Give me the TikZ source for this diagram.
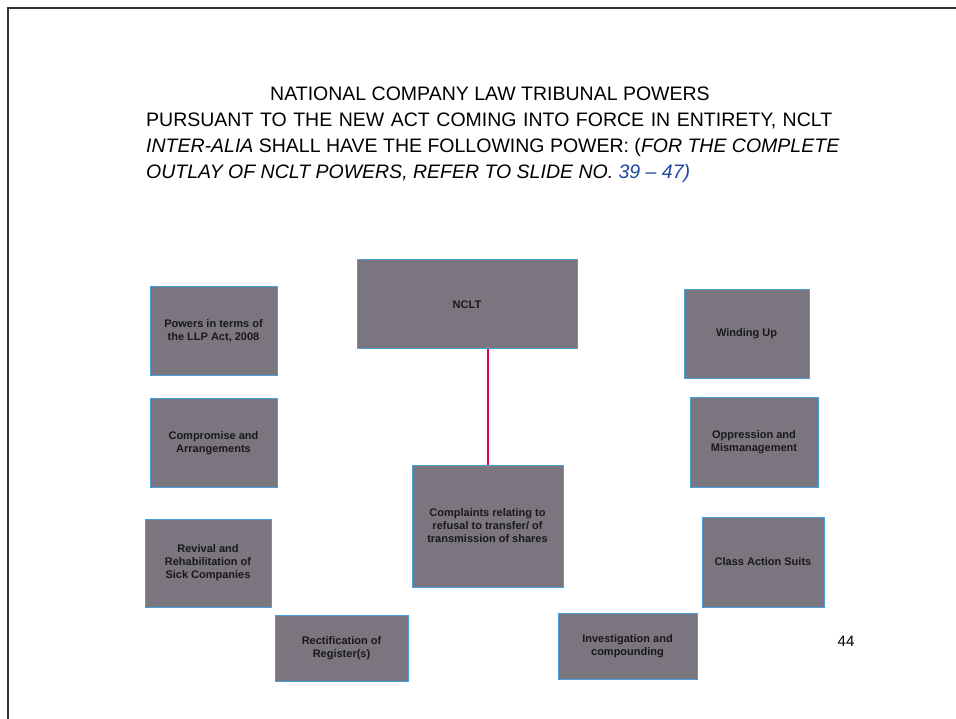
\documentclass[tikz,border=0pt]{standalone}
\usepackage{fontspec}
\setmainfont{Liberation Sans}
\definecolor{boxfill}{RGB}{122,117,127}
\definecolor{boxedge}{RGB}{70,160,220}
\definecolor{linkred}{RGB}{230,0,80}
\definecolor{numblue}{RGB}{30,70,160}
\begin{document}
\begin{tikzpicture}[x=1pt,y=-1pt,
  pbox/.style={draw=boxedge,line width=1pt,fill=boxfill,inner sep=0pt,
    font=\fontsize{11}{13}\selectfont\bfseries,text=black!90,align=center},
  titleline/.style={inner sep=0pt,font=\fontsize{19.5}{22}\selectfont,anchor=base west}]
\useasboundingbox (0,0) rectangle (956,719);
\fill[white] (0,0) rectangle (956,719);
\draw[line width=1.2pt,black!80] (8,719) -- (8,8) -- (956,8);
% title
\node[inner sep=0pt,font=\fontsize{19.5}{22}\selectfont,anchor=base] (t1) at (490,101) {NATIONAL COMPANY LAW TRIBUNAL POWERS};
\node[titleline] (t2) at (146,127) {\makebox[686pt][s]{PURSUANT TO THE NEW ACT COMING INTO FORCE IN ENTIRETY, NCLT}};
\node[titleline] (t3) at (146,153) {\textit{INTER-ALIA} SHALL HAVE THE FOLLOWING POWER: (\textit{FOR THE COMPLETE}};
\node[titleline] (t4) at (146,179) {\textit{OUTLAY OF NCLT POWERS, REFER TO SLIDE NO. \textcolor{numblue}{39 – 47)}}};
% boxes
\node[pbox,minimum width=220pt,minimum height=89pt] (nclt) at (467,304.5) {NCLT};
\node[pbox,minimum width=127pt,minimum height=88pt] (llp) at (213.5,331) {Powers in terms of\\the LLP Act, 2008};
\node[pbox,minimum width=127pt,minimum height=89pt] (comp) at (213.5,443) {Compromise and\\Arrangements};
\node[pbox,minimum width=126pt,minimum height=88pt] (rev) at (208,563) {Revival and\\Rehabilitation of\\Sick Companies};
\node[pbox,minimum width=133pt,minimum height=66pt] (rect) at (341.5,648) {Rectification of\\Register(s)};
\node[pbox,minimum width=151pt,minimum height=122pt] (cmpl) at (487.5,526) {Complaints relating to\\refusal to transfer/ of\\transmission of shares};
\node[pbox,minimum width=125pt,minimum height=88pt] (wind) at (746.5,334) {Winding Up};
\node[pbox,minimum width=128pt,minimum height=90pt] (opp) at (754,442) {Oppression and\\Mismanagement};
\node[pbox,minimum width=122pt,minimum height=90pt] (cls) at (763,562) {Class Action Suits};
\node[pbox,minimum width=139pt,minimum height=66pt] (inv) at (627.5,646) {Investigation and\\compounding};
\coordinate (a) at (nclt.south -| cmpl.north);
\draw[draw=linkred,line width=2pt] (a) -- (cmpl.north);
\node[inner sep=0pt,font=\fontsize{15}{17}\selectfont] (pg) at (846,641) {44};
\end{tikzpicture}
\end{document}
